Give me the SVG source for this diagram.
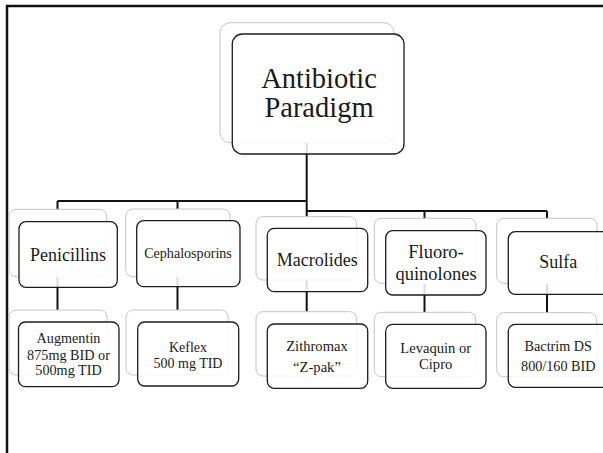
<svg xmlns="http://www.w3.org/2000/svg" width="603" height="453" viewBox="0 0 603 453">
<style>
.bg{fill:#fff;stroke:#c4c4c4;stroke-width:1}
.fg{fill:#fff;fill-opacity:0.86;stroke:#1c1c1c;stroke-width:1.3}
.t{font-family:"Liberation Serif","Times New Roman",serif;fill:#1a1a1a;text-anchor:middle}
.c{stroke:#111;stroke-width:2;fill:none}
</style>
<rect x="0" y="0" width="603" height="453" fill="#fff"/>
<path d="M7,453 V6 H603" fill="none" stroke="#111" stroke-width="2.5"/>
<g id="connectors">
<path class="c" d="M306.7,142 V211"/>
<path class="c" d="M57.5,201 H306.7"/>
<path class="c" d="M306.7,211 H547"/>
<path class="c" d="M57.5,201 V210 M177.5,201 V210"/>
<path class="c" d="M306.7,211 V218 M424.5,211 V219 M547,211 V219"/>
<path class="c" d="M57.5,276 V311 M177.5,276 V311 M306.7,279 V312 M424.5,282 V313 M547,282 V313"/>
</g>
<g id="root">
<rect class="bg" x="220" y="22.7" width="174" height="120" rx="10"/>
<rect class="fg" x="232.3" y="34" width="171.7" height="120" rx="10"/>
<text class="t" font-size="28.5" x="319" y="88.3">Antibiotic</text>
<text class="t" font-size="28.5" x="319" y="117.3">Paradigm</text>
</g>
<g id="penicillins">
<rect class="bg" x="9" y="209.3" width="97.7" height="67.4" rx="7"/>
<rect class="fg" x="19" y="221.7" width="98.3" height="65.6" rx="7"/>
<text class="t" font-size="18" x="68" y="260.7">Penicillins</text>
</g>
<g id="cephalosporins">
<rect class="bg" x="125.7" y="209" width="104.3" height="67.7" rx="7"/>
<rect class="fg" x="136.7" y="220.7" width="103.3" height="66" rx="7"/>
<text class="t" font-size="14.1" x="188" y="258.3">Cephalosporins</text>
</g>
<g id="macrolides">
<rect class="bg" x="256" y="216.7" width="100.7" height="63.3" rx="7"/>
<rect class="fg" x="267.3" y="228.3" width="100.4" height="63.4" rx="7"/>
<text class="t" font-size="18" x="317.3" y="266">Macrolides</text>
</g>
<g id="fluoroquinolones">
<rect class="bg" x="374.3" y="218.3" width="101.7" height="65" rx="7"/>
<rect class="fg" x="385.7" y="230.7" width="100.3" height="64.3" rx="7"/>
<text class="t" font-size="18.5" x="436" y="258.3">Fluoro-</text>
<text class="t" font-size="18.5" x="436" y="280">quinolones</text>
</g>
<g id="sulfa">
<rect class="bg" x="496.7" y="218.3" width="100.3" height="65" rx="7"/>
<rect class="fg" x="508.3" y="231.7" width="100.7" height="62.6" rx="7"/>
<text class="t" font-size="18" x="558.3" y="268.3">Sulfa</text>
</g>
<g id="augmentin">
<rect class="bg" x="9" y="310" width="98" height="65" rx="7"/>
<rect class="fg" x="18.5" y="322" width="100.5" height="64.7" rx="7"/>
<text class="t" font-size="14.2" x="68.5" y="343.3">Augmentin</text>
<text class="t" font-size="14.2" x="68.5" y="359.5">875mg BID or</text>
<text class="t" font-size="14.2" x="68.5" y="375.3">500mg TID</text>
</g>
<g id="keflex">
<rect class="bg" x="126" y="310" width="102" height="65" rx="7"/>
<rect class="fg" x="137.7" y="322" width="101" height="64" rx="7"/>
<text class="t" font-size="14" x="188" y="351.7">Keflex</text>
<text class="t" font-size="14" x="188" y="367.7">500 mg TID</text>
</g>
<g id="zithromax">
<rect class="bg" x="256" y="311.7" width="100.7" height="64.3" rx="7"/>
<rect class="fg" x="267.3" y="324" width="100.4" height="64.3" rx="7"/>
<text class="t" font-size="14.6" x="317" y="350.7">Zithromax</text>
<text class="t" font-size="14.6" x="317" y="371.7">“Z-pak”</text>
</g>
<g id="levaquin">
<rect class="bg" x="374.3" y="312.3" width="101.4" height="64.4" rx="7"/>
<rect class="fg" x="385.7" y="324.3" width="100.3" height="64" rx="7"/>
<text class="t" font-size="14.6" x="435.7" y="353.3">Levaquin or</text>
<text class="t" font-size="14.6" x="435.7" y="369.3">Cipro</text>
</g>
<g id="bactrim">
<rect class="bg" x="496.7" y="312.7" width="100" height="64" rx="7"/>
<rect class="fg" x="508.3" y="324.3" width="100.7" height="63" rx="7"/>
<text class="t" font-size="14.2" x="558.3" y="350.7">Bactrim DS</text>
<text class="t" font-size="14.2" x="558.3" y="370.7">800/160 BID</text>
</g>
</svg>
